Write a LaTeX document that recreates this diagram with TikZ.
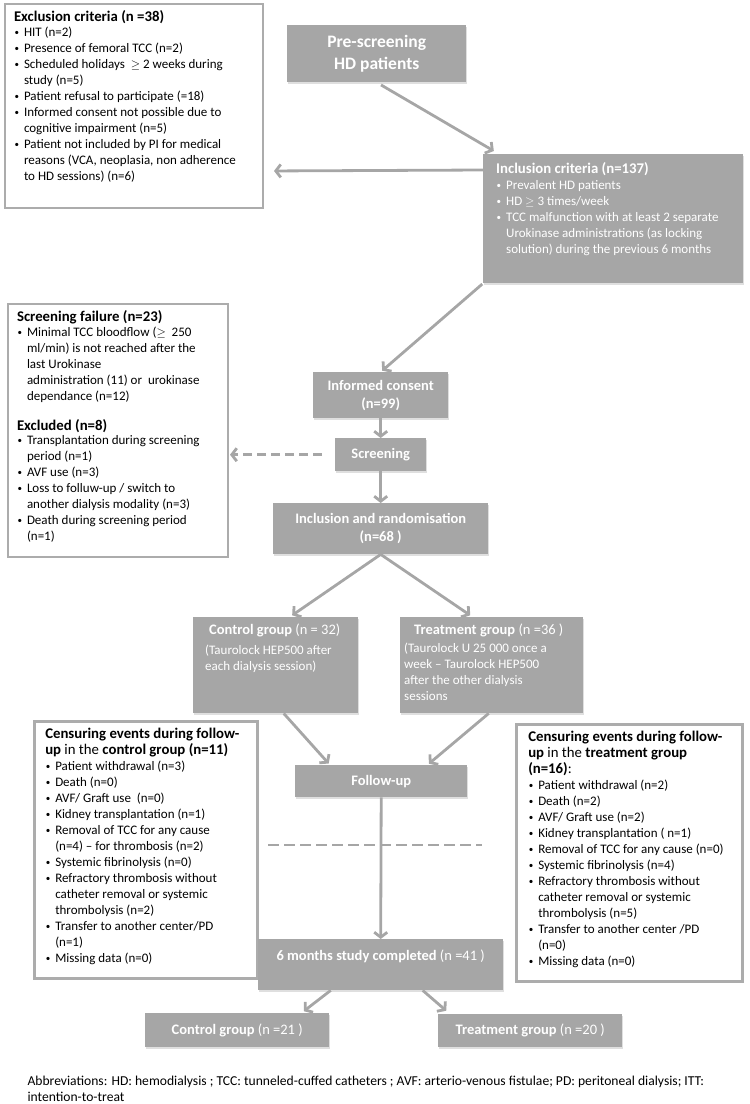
\documentclass[tikz,border=0pt]{standalone}
\usepackage{fontspec}
\setmainfont{Carlito}
\usepackage{enumitem}
\usetikzlibrary{arrows.meta,calc,shadows}
\definecolor{boxgray}{RGB}{166,166,166}
\definecolor{linegray}{RGB}{172,172,172}
\setlist[itemize]{nosep,leftmargin=10pt,labelsep=5pt,label={\raisebox{1pt}{\fontsize{9}{9}\selectfont\textbullet}}}
\newcommand{\bodyfont}{\fontsize{13}{16}\selectfont}
\newcommand{\headsize}{\fontsize{14.8}{16}\selectfont}

\begin{document}
\begin{tikzpicture}[x=1pt,y=-1pt,
	greybox/.style={fill=boxgray,text=white,anchor=north west,inner sep=0pt,align=center,font=\fontsize{14.5}{18}\selectfont,drop shadow={shadow xshift=1.2pt,shadow yshift=-1.5pt,opacity=.25}},
	listbox/.style={draw=linegray,line width=2pt,fill=white,anchor=north west,inner xsep=9pt,inner ysep=7pt},
	flow/.style={draw=boxgray,line width=2.8pt,-{Straight Barb[length=5pt,width=13pt]}},
	]
	\useasboundingbox (0,0) rectangle (750,1104);
	%TOP
	\node[listbox] (excl) at (4,3) {\parbox[t][190pt][t]{240pt}{\raggedright\bodyfont
			{\headsize\bfseries Exclusion criteria (n =38)\par}\vspace{-1.5pt}
			\begin{itemize}
				\item HIT (n=2)
				\item Presence of femoral TCC (n=2)
				\item Scheduled holidays\ \ $\geq$ 2 weeks during\newline study (n=5)
				\item Patient refusal to participate (=18)
				\item Informed consent not possible due to\newline cognitive impairment (n=5)
				\item Patient not included by PI for medical\newline reasons (VCA, neoplasia, non adherence\newline to HD sessions) (n=6)
	\end{itemize}}};
	\node[greybox,minimum width=179pt,minimum height=57pt,font=\bfseries\fontsize{17.5}{22}\selectfont] (pre) at (287,25) {Pre-screening\\HD patients};
	\node[greybox,inner xsep=13pt,inner ysep=8pt] (incl) at (483,154) {\parbox[t][113pt][t]{234pt}{\raggedright\bodyfont
			{\headsize\bfseries Inclusion criteria (n=137)\par}
			\begin{itemize}
				\item Prevalent HD patients
				\item HD $\geq$ 3 times/week
				\item TCC malfunction with at least 2 separate\newline Urokinase administrations (as locking\newline solution) during the previous 6 months
	\end{itemize}}};
	%SCREENING
	\node[listbox] (sfail) at (7,303) {\parbox[t][239pt][t]{202pt}{\raggedright\bodyfont
			{\headsize\bfseries Screening failure (n=23)\par}\vspace{-1.5pt}
			\begin{itemize}
				\item Minimal TCC bloodflow ($\geq$\ \ 250\newline ml/min) is not reached after the\newline last Urokinase\newline administration (11) or\ \ urokinase\newline dependance (n=12)
			\end{itemize}
			\vspace{14pt}
			{\headsize\bfseries Excluded (n=8)\par}\vspace{-1.5pt}
			\begin{itemize}
				\item Transplantation during screening\newline period (n=1)
				\item AVF use (n=3)
				\item Loss to folluw-up / switch to\newline another dialysis modality (n=3)
				\item Death during screening period\newline (n=1)
	\end{itemize}}};
	\node[greybox,minimum width=135pt,minimum height=46pt] (cons) at (313,372) {\textbf{Informed consent}\\\textbf{(n=99)}};
	\node[greybox,minimum width=91pt,minimum height=33pt] (scr) at (335,438) {\textbf{Screening}};
	\node[greybox,minimum width=215pt,minimum height=51pt] (rand) at (273,503) {\textbf{Inclusion and randomisation}\\\textbf{(n=68 )}};
	%GROUPS
	\node[greybox,inner xsep=12pt,inner ysep=7pt] (ctrl) at (193,617) {\parbox[t][82pt][t]{141pt}{\raggedright
			{\fontsize{14.5}{17}\selectfont\hspace*{4pt}\textbf{Control group} (n = 32)\par}\vspace{3pt}
			{\fontsize{13}{16.5}\selectfont(Taurolock HEP500 after\\each dialysis session)\par}}};
	\node[greybox,inner xsep=4pt,inner ysep=7pt] (trt) at (400,617) {\parbox[t][82pt][t]{175pt}{\raggedright
			{\fontsize{14.5}{17}\selectfont\hspace*{10pt}\textbf{Treatment group} (n =36 )\par}\vspace{2pt}
			{\fontsize{13}{16}\selectfont(Taurolock U 25 000 once a\\week – Taurolock HEP500\\after the other dialysis\\sessions\par}}};
	%FOLLOW-UP
	\node[listbox,line width=2.5pt,inner xsep=11pt] (cctrl) at (33,720) {\parbox[t][243pt][t]{201pt}{\raggedright\bodyfont
			{\headsize\textbf{Censuring events during follow-}\\\textbf{up} in the \textbf{control group (n=11)}\par}
			\begin{itemize}
				\item Patient withdrawal (n=3)
				\item Death (n=0)
				\item AVF/ Graft use\ \ (n=0)
				\item Kidney transplantation (n=1)
				\item Removal of TCC for any cause\newline (n=4) – for thrombosis (n=2)
				\item Systemic fibrinolysis (n=0)
				\item Refractory thrombosis without\newline catheter removal or systemic\newline thrombolysis (n=2)
				\item Transfer to another center/PD\newline (n=1)
				\item Missing data (n=0)
	\end{itemize}}};
	\node[listbox,line width=2.5pt,inner xsep=12pt] (ctrt) at (515,723) {\parbox[t][243pt][t]{202pt}{\raggedright\bodyfont
			{\headsize\textbf{Censuring events during follow-}\\\textbf{up} in the \textbf{treatment group}\\\textbf{(n=16)}:\par}
			\begin{itemize}
				\item Patient withdrawal (n=2)
				\item Death (n=2)
				\item AVF/ Graft use (n=2)
				\item Kidney transplantation ( n=1)
				\item Removal of TCC for any cause (n=0)
				\item Systemic fibrinolysis (n=4)
				\item Refractory thrombosis without\newline catheter removal or systemic\newline thrombolysis (n=5)
				\item Transfer to another center /PD\newline (n=0)
				\item Missing data (n=0)
	\end{itemize}}};
	\node[greybox,minimum width=172pt,minimum height=32pt] (fu) at (295,765) {\textbf{Follow-up}};
	\node[greybox,minimum width=245pt,minimum height=51pt,text height=11pt,text depth=20pt] (six) at (258,939) {\textbf{6 months study completed} (n =41 )};
	\node[greybox,minimum width=184pt,minimum height=34pt] (cfin) at (145,1013) {\textbf{Control group} (n =21 )};
	\node[greybox,minimum width=184pt,minimum height=33pt] (tfin) at (438,1014) {\textbf{Treatment group} (n =20 )};
	\node[anchor=base west,align=left,font=\fontsize{13.6}{16}\selectfont] (abbr) at (24,1101) {Abbreviations: HD: hemodialysis ; TCC: tunneled-cuffed catheters ; AVF: arterio-venous fistulae; PD: peritoneal dialysis; ITT:\\intention-to-treat};
	%ARROWS
	\draw[flow,shorten <=5pt,shorten >=6pt] (pre.south) -- ($(incl.north west)+(16,0)$);
	\draw[flow,shorten >=10pt] ($(incl.north west)+(0,16)$) -- ($(excl.east)+(0,65)$);
	\draw[flow,shorten <=1pt,shorten >=2pt] (incl.south west) -- (cons.north);
	\draw[flow] (cons.south) -- (scr.north);
	\draw[flow,dash pattern=on 9pt off 5pt,shorten <=13pt,shorten >=1pt] (scr.west) -- (scr.west -| sfail.east);
	\draw[flow] (scr.south) -- (rand.north);
	\draw[flow,shorten >=3pt] (rand.south) -- ($(ctrl.north)+(14,0)$);
	\draw[flow,shorten >=3pt] (rand.south) -- ($(trt.north)+(-19,0)$);
	\draw[flow,shorten >=2pt] ($(ctrl.south)+(8,0)$) -- ($(fu.north west)+(35,0)$);
	\draw[flow,shorten >=2pt] ($(trt.south)+(-3,0)$) -- ($(fu.north east)+(-40,0)$);
	\draw[flow] (fu.south) -- (six.north);
	\draw[boxgray,line width=2.8pt,dash pattern=on 11pt off 5pt] (268,845) -- (482,845);
	\draw[flow,shorten >=3pt] ($(six.south)+(-50,0)$) -- ($(cfin.north east)+(-28,0)$);
	\draw[flow,shorten >=5pt] ($(six.south)+(42,0)$) -- ($(tfin.north west)+(12,0)$);
\end{tikzpicture}
\end{document}
